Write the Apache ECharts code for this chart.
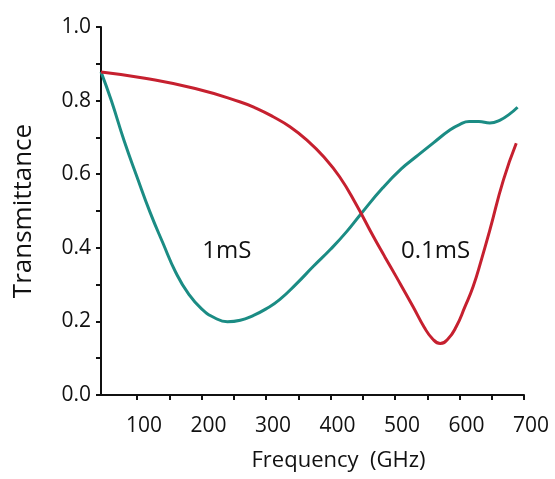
<!DOCTYPE html>
<html>
<head>
<meta charset="utf-8">
<script src="https://cdn.jsdelivr.net/npm/echarts@6/dist/echarts.min.js"></script>
<style>
html,body{margin:0;padding:0;background:#fff;}
#chart{width:555px;height:479px;}
</style>
</head>
<body>
<div id="chart"></div>
<script>
// Frequency (GHz) / Transmittance values
const green1mS = [
  [44,0.878],[60,0.80],[80,0.69],[100,0.592],[120,0.497],[140,0.413],[160,0.333],
  [180,0.274],[200,0.234],[220,0.210],[240,0.199],[260,0.203],[280,0.216],[300,0.234],
  [321,0.259],[347,0.302],[373,0.349],[400,0.396],[425,0.444],[448,0.494],[481,0.563],
  [510,0.615],[533,0.648],[560,0.686],[585,0.72],[600,0.735],[615,0.743],[630,0.743],
  [647,0.739],[663,0.747],[678,0.764],[690,0.782]
];
const red01mS = [
  [44,0.878],[112,0.861],[190,0.833],[259,0.797],[285,0.779],[311,0.756],[337,0.729],
  [363,0.693],[389,0.648],[414,0.593],[440,0.517],[466,0.432],[484,0.376],[502,0.321],
  [528,0.24],[545,0.185],[558,0.153],[570,0.140],[582,0.152],[595,0.186],[608,0.238],
  [621,0.294],[634,0.368],[647,0.448],[668,0.584],[688,0.684]
];
const annotations = [
  {name:'1mS', value:[239,0.39]},
  {name:'0.1mS', value:[563,0.39]}
];
const xLabelValues = [100,200,300,400,500,600,700];
const xTickValues = [100,150,200,250,300,350,400,450,500,550,600,650,700];

const FONT = 'Open Sans';
const TXT = '#111';
const chart = echarts.init(document.getElementById('chart'));
chart.setOption({
  animation:false,
  backgroundColor:'#fff',
  grid:{left:101, top:27, right:31, bottom:84, containLabel:false},
  xAxis:{
    type:'value', min:44, max:700,
    name:'Frequency  (GHz)', nameLocation:'middle', nameGap:55,
    nameTextStyle:{fontFamily:FONT, fontSize:22, color:TXT, padding:[0,0,0,52]},
    axisLine:{show:true, onZero:false, lineStyle:{color:'#111', width:2}},
    axisTick:{show:true, inside:false, length:5, interval:0, lineStyle:{color:'#111', width:2}, customValues:xTickValues},
    axisLabel:{fontFamily:FONT, fontSize:21, color:TXT, margin:21, interval:0, customValues:xLabelValues, padding:[0,0,0,14]},
    splitLine:{show:false}
  },
  yAxis:{
    type:'value', min:0, max:1, interval:0.1,
    name:'Transmittance', nameLocation:'middle', nameGap:64, nameRotate:90,
    nameTextStyle:{fontFamily:FONT, fontSize:26, color:TXT},
    axisLine:{show:true, lineStyle:{color:'#111', width:2}},
    axisTick:{show:true, inside:false, length:5, lineStyle:{color:'#111', width:2}},
    axisLabel:{fontFamily:FONT, fontSize:21, color:TXT, margin:10,
      formatter:v=>(Math.round(v*10)%2===0)?v.toFixed(1):''},
    splitLine:{show:false}
  },
  series:[
    {type:'line', name:'1mS', data:green1mS, smooth:0.5, showSymbol:false,
      lineStyle:{color:'#1b8c84', width:3}, z:3},
    {type:'line', name:'0.1mS', data:red01mS, smooth:0.5, showSymbol:false,
      lineStyle:{color:'#c6202f', width:3}, z:4},
    {type:'scatter', data:annotations, symbolSize:0, silent:true,
      itemStyle:{color:'#fff', opacity:0},
      label:{show:true, position:'inside', formatter:p=>p.name, fontFamily:FONT, fontSize:24,
        color:TXT, textBorderWidth:0, textBorderColor:'transparent', opacity:1}}
  ]
});
</script>
</body>
</html>
